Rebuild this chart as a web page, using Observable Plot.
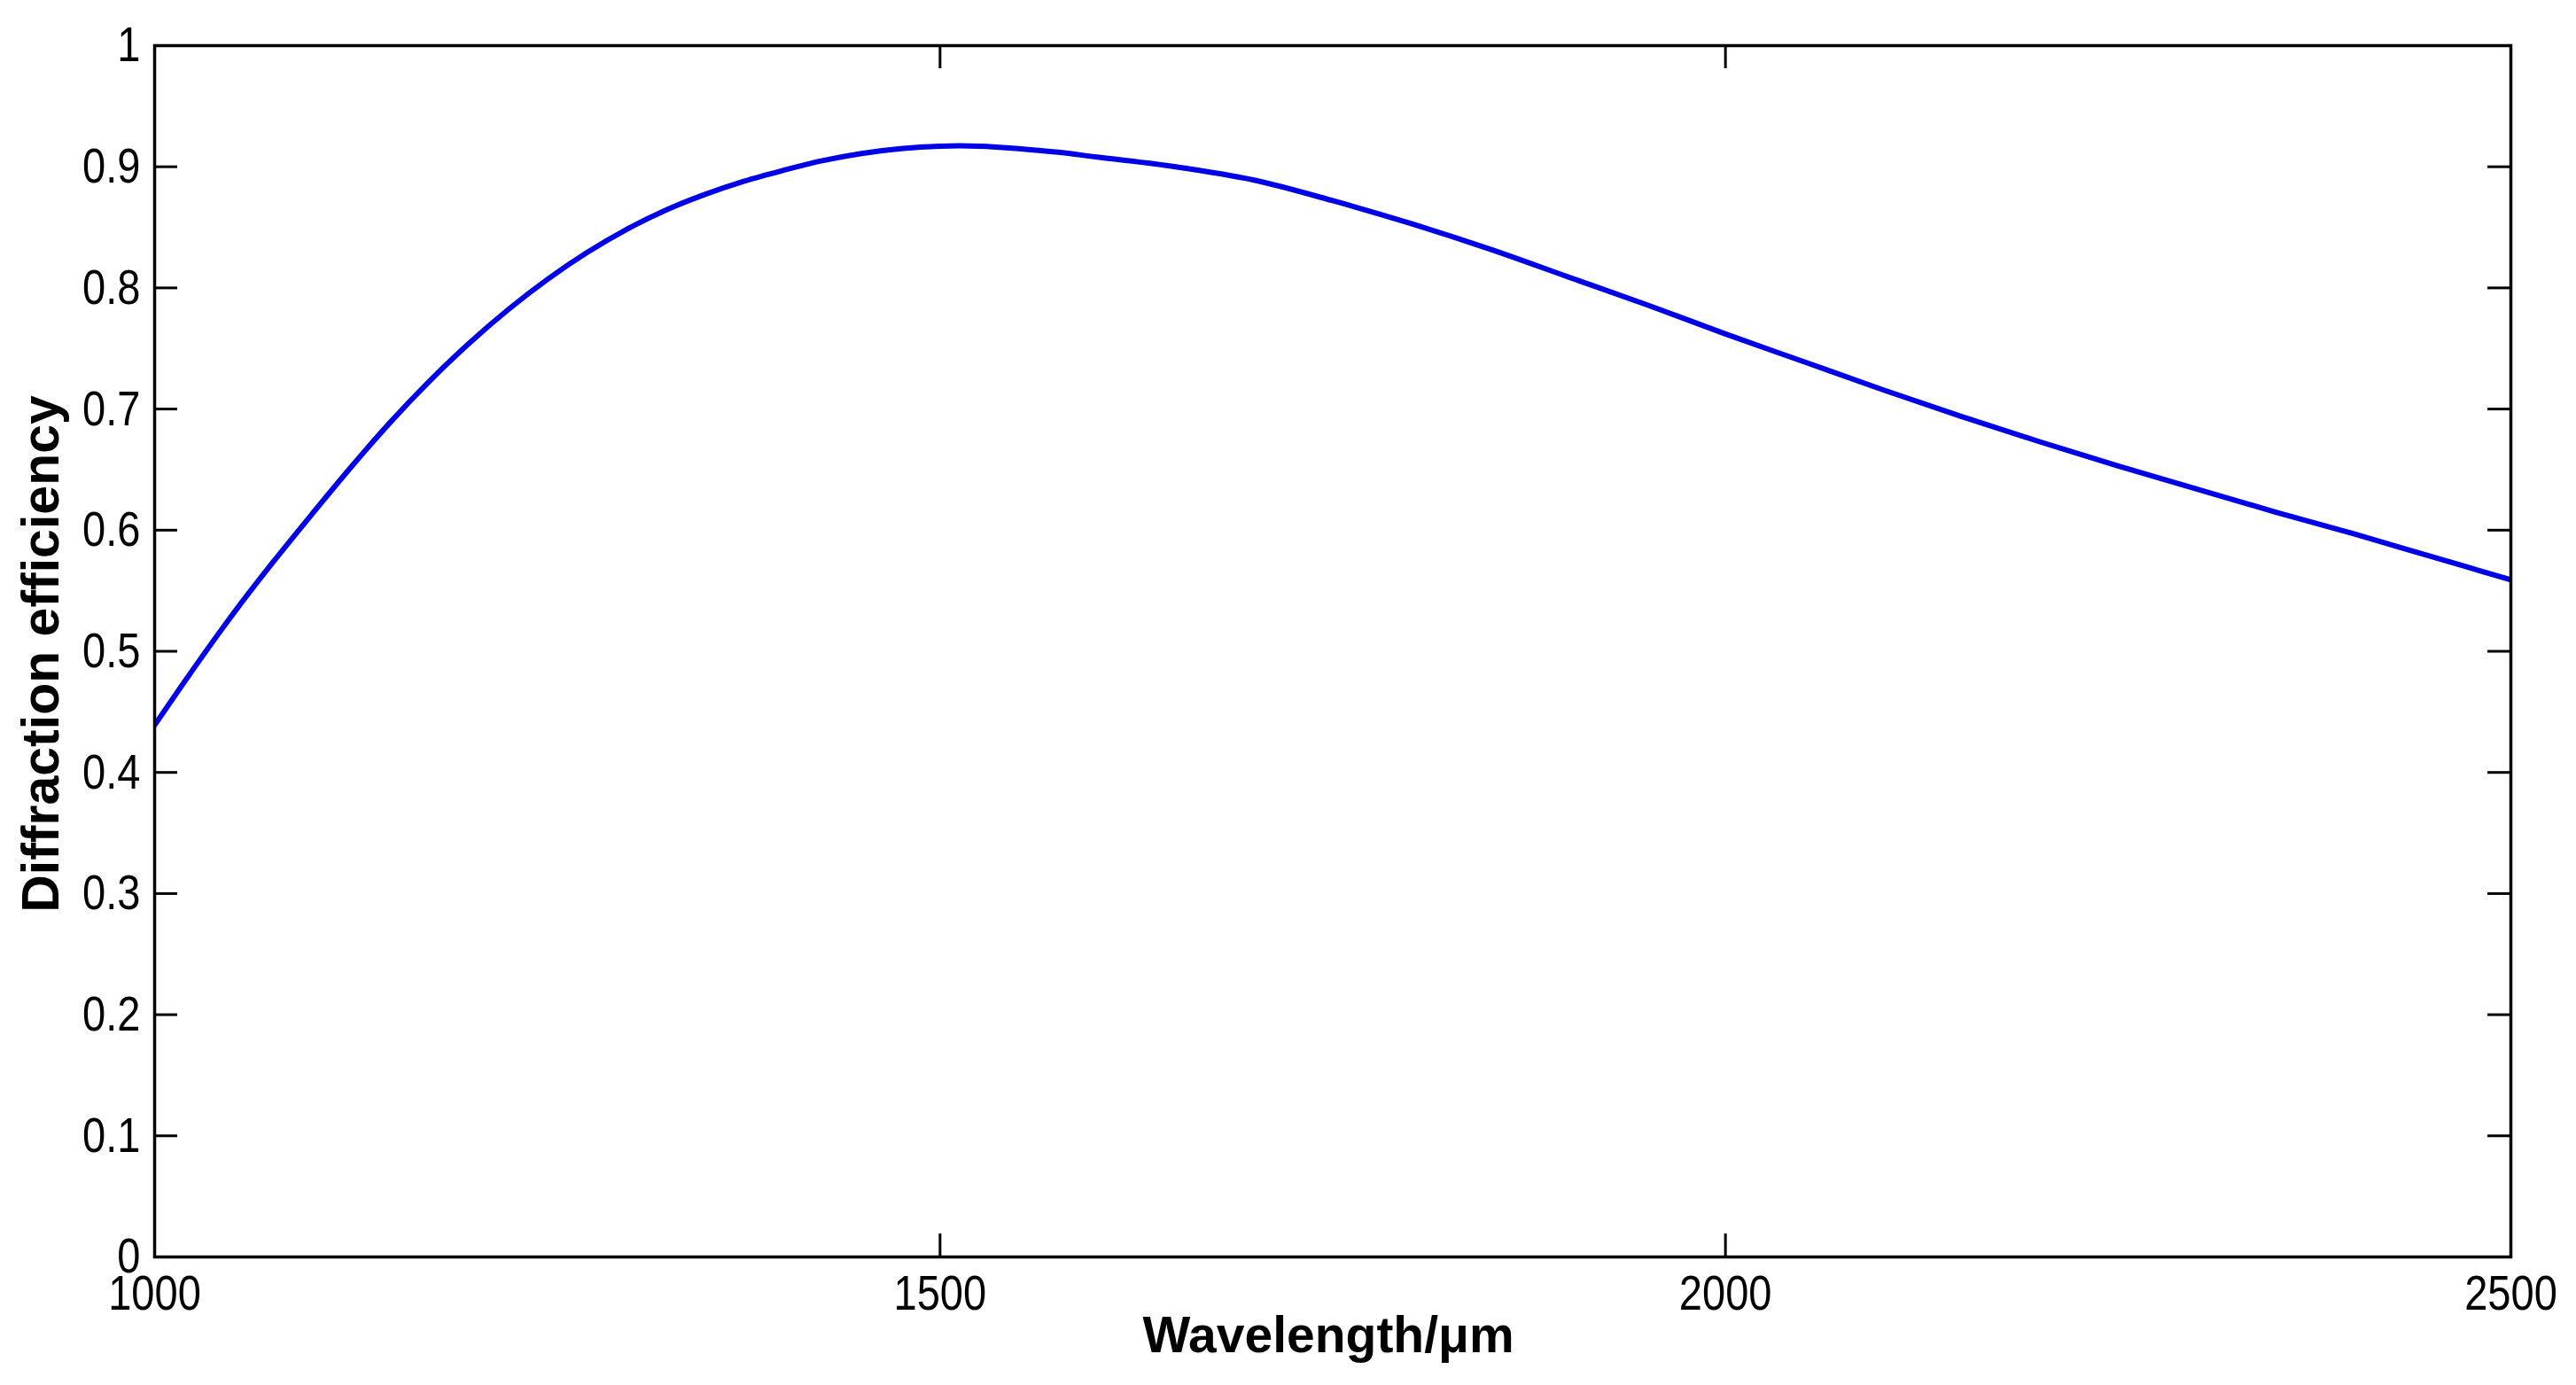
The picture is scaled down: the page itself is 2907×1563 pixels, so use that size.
<!DOCTYPE html>
<html>
<head>
<meta charset="utf-8">
<script src="https://cdn.jsdelivr.net/npm/d3@7"></script>
<script src="https://cdn.jsdelivr.net/npm/@observablehq/plot@0.6"></script>
<style>
  html, body { margin: 0; padding: 0; background: #ffffff; }
  #chart { width: 2907px; height: 1563px; }
</style>
</head>
<body>
<div id="chart"></div>
<script>
// Wavelength samples (x) and diffraction efficiency (y)
const wavelength = [1000, 1025, 1050, 1075, 1100, 1125, 1150, 1175, 1200, 1225, 1250, 1275, 1300, 1325, 1350, 1375, 1400, 1425, 1450, 1475, 1500, 1525, 1550, 1575, 1600, 1650, 1700, 1750, 1800, 1850, 1900, 1950, 2000, 2050, 2100, 2150, 2200, 2250, 2300, 2350, 2400, 2450, 2500];
const efficiency = [0.439, 0.486, 0.531, 0.573, 0.613, 0.652, 0.689, 0.723, 0.754, 0.782, 0.807, 0.829, 0.848, 0.864, 0.877, 0.888, 0.897, 0.905, 0.911, 0.915, 0.917, 0.917, 0.915, 0.912, 0.908, 0.900, 0.889, 0.872, 0.853, 0.832, 0.809, 0.786, 0.762, 0.739, 0.716, 0.694, 0.673, 0.653, 0.634, 0.615, 0.597, 0.578, 0.559];

const xTicks = [1000, 1500, 2000, 2500];
const yTicks = [0, 0.1, 0.2, 0.3, 0.4, 0.5, 0.6, 0.7, 0.8, 0.9, 1];
const xLabel = ["Wavelength/\u03bcm"];
const yLabel = ["Diffraction efficiency"];

const data = wavelength.map((w, i) => ({w, e: efficiency[i]}));

const W = 2907, H = 1563;
const mL = 174, mR = 74, mT = 51, mB = 145;
const innerW = W - mL - mR, innerH = H - mT - mB;
const tickLen = 26;
const tickFont = "'Liberation Sans', Arial, Helvetica, sans-serif";
const labelFont = "'Liberation Sans', Arial, Helvetica, sans-serif";

const chart = Plot.plot({
  width: W,
  height: H,
  marginLeft: mL,
  marginRight: mR,
  marginTop: mT,
  marginBottom: mB,
  style: {fontFamily: tickFont, fontSize: "56px", color: "#000", background: "#fff"},
  x: {domain: [1000, 2500]},
  y: {domain: [0, 1]},
  marks: [
    Plot.line(data, {x: "w", y: "e", stroke: "#0000e6", strokeWidth: 6, curve: "catmull-rom", clip: true}),
    // inward ticks on all four sides
    Plot.tickX(xTicks, {x: d => d, stroke: "#000", strokeWidth: 3, insetTop: innerH - tickLen}),
    Plot.tickX(xTicks, {x: d => d, stroke: "#000", strokeWidth: 3, insetBottom: innerH - tickLen}),
    Plot.tickY(yTicks, {y: d => d, stroke: "#000", strokeWidth: 3, insetRight: innerW - tickLen}),
    Plot.tickY(yTicks, {y: d => d, stroke: "#000", strokeWidth: 3, insetLeft: innerW - tickLen}),
    Plot.frame({stroke: "#000", strokeWidth: 3.5}),
    Plot.axisX({ticks: xTicks, tickSize: 0, tickPadding: 20, label: null, tickFormat: d => String(d)}),
    Plot.axisY({ticks: yTicks, tickSize: 0, tickPadding: 16, label: null, tickFormat: d => String(+d.toFixed(1))}),
    Plot.text(xLabel, {text: d => d, frameAnchor: "bottom", textAnchor: "middle", dx: -5, dy: 107, lineAnchor: "bottom",
      fontFamily: labelFont, fontWeight: "bold", fontSize: 57, fill: "#000"}),
    Plot.text(yLabel, {text: d => d, frameAnchor: "left", textAnchor: "middle", dx: -109, dy: 3, rotate: -90, lineAnchor: "bottom",
      fontFamily: labelFont, fontWeight: "bold", fontSize: 59, fill: "#000"})
  ]
});

document.getElementById("chart").appendChild(chart);

// narrow the tick-label glyphs to match the condensed reference font
chart.querySelectorAll('g[aria-label="x-axis tick label"] text, g[aria-label="y-axis tick label"] text').forEach(el => {
  const len = el.getComputedTextLength();
  if (len > 0) {
    el.setAttribute("textLength", (len * 0.84).toFixed(2));
    el.setAttribute("lengthAdjust", "spacingAndGlyphs");
  }
});
</script>
</body>
</html>
